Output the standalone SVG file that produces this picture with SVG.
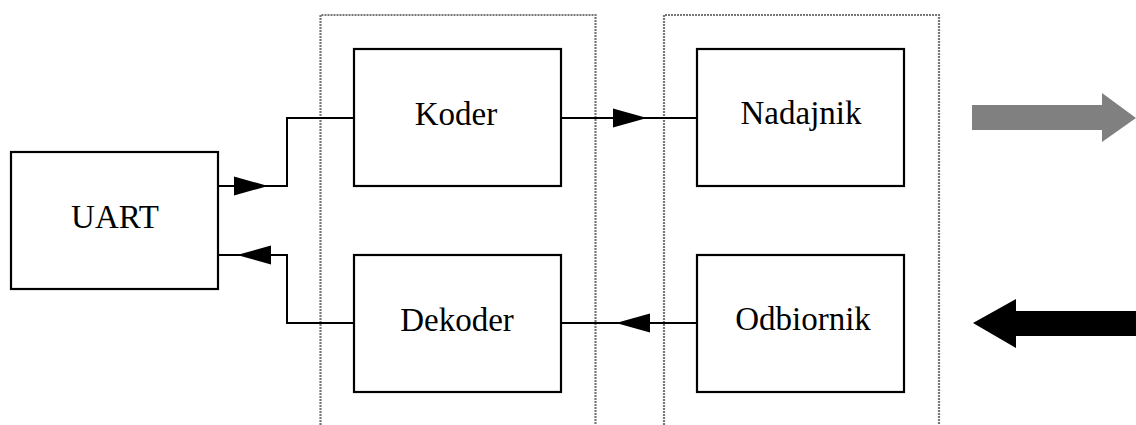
<svg xmlns="http://www.w3.org/2000/svg" width="1136" height="425" viewBox="0 0 1136 425">
<style>
.box{fill:#fff;stroke:#000;stroke-width:2.2}
.grp{fill:none;stroke:#777;stroke-width:2.2;stroke-dasharray:2 1}
.lbl{font-family:"Liberation Serif","Times New Roman",serif;font-size:33px;fill:#000;text-anchor:middle}
.wire{fill:none;stroke:#000;stroke-width:2}
</style>
<defs>
<path id="ah" d="M0,0 L-34,-9.5 L-34,9.5 Z" fill="#000"/>
</defs>
<rect width="1136" height="425" fill="#fff"/>
<g id="groups">
<path class="grp" d="M320.5,425 V15 H595.5 V425"/>
<path class="grp" d="M664,425 V15 H939 V425"/>
</g>
<g id="connectors">
<path class="wire" d="M218,186 H287 V118 H354"/>
<path class="wire" d="M561,118 H698"/>
<path class="wire" d="M697,323 H561"/>
<path class="wire" d="M354,323 H287 V255 H218"/>
<use href="#ah" transform="translate(268,186)"/>
<use href="#ah" transform="translate(647,118)"/>
<use href="#ah" transform="translate(616,323) rotate(180)"/>
<use href="#ah" transform="translate(237,255) rotate(180)"/>
</g>
<g id="uart">
<rect class="box" x="11" y="152" width="207" height="137"/>
<text class="lbl" x="115" y="228">UART</text>
</g>
<g id="koder">
<rect class="box" x="354" y="49" width="207" height="137"/>
<text class="lbl" x="456" y="125">Koder</text>
</g>
<g id="dekoder">
<rect class="box" x="354" y="255" width="207" height="137"/>
<text class="lbl" x="457" y="331">Dekoder</text>
</g>
<g id="nadajnik">
<rect class="box" x="697" y="49" width="207" height="137"/>
<text class="lbl" x="801" y="124">Nadajnik</text>
</g>
<g id="odbiornik">
<rect class="box" x="697" y="255" width="207" height="137"/>
<text class="lbl" x="803" y="330">Odbiornik</text>
</g>
<g id="tx-arrow">
<polygon fill="#808080" points="972,105 1102,105 1102,93 1136,118 1102,142 1102,130 972,130"/>
</g>
<g id="rx-arrow">
<polygon fill="#000" points="1136,311 1016,311 1016,299 973,323 1016,348 1016,336 1136,336"/>
</g>
</svg>
